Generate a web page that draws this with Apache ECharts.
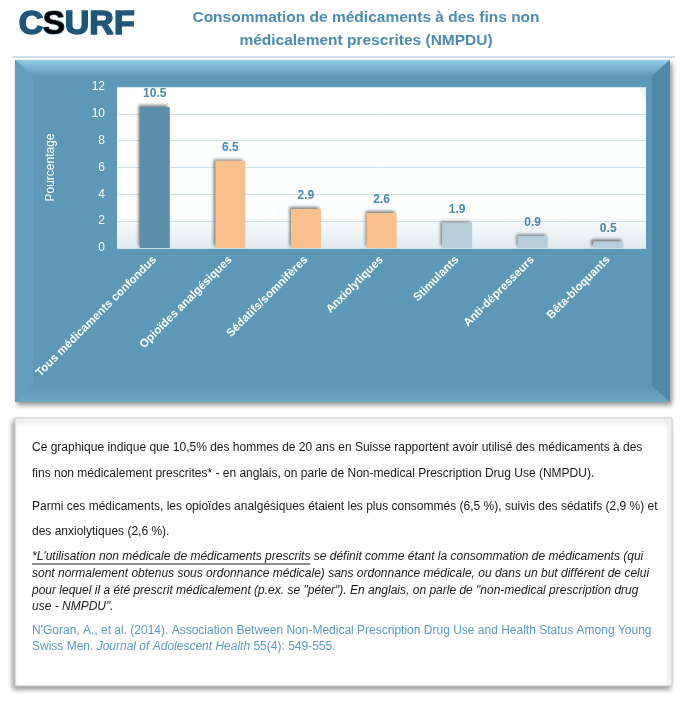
<!DOCTYPE html>
<html>
<head>
<meta charset="utf-8">
<script src="https://cdn.jsdelivr.net/npm/echarts@6/dist/echarts.min.js"></script>
<style>
html,body{margin:0;padding:0;background:#fff;}
#c{width:688px;height:702px;}
</style>
</head>
<body>
<div id="c"></div>
<script>
const categories = ['Tous médicaments confondus','Opioïdes analgésiques','Sédatifs/somnifères','Anxiolytiques','Stimulants','Anti-dépresseurs','Bêta-bloquants'];
const values = [10.5, 6.5, 2.9, 2.6, 1.9, 0.9, 0.5];
const barColors = ['#5a8eab','#f9c08e','#f9c08e','#f9c08e','#b7cedb','#b7cedb','#b7cedb'];
const yMin = 0, yMax = 12, yStep = 2;
const titleLines = ['Consommation de médicaments à des fins non','médicalement prescrites (NMPDU)'];
const yName = 'Pourcentage';

const F = "'Liberation Sans', Arial, sans-serif";
const chart = echarts.init(document.getElementById('c'), null, {renderer:'canvas'});

const g = [];
// header
g.push({type:'text', left:18, top:7, z:10, style:{text:'C', font:'bold 34px '+F, fill:'#1d5679', stroke:'#1d5679', lineWidth:1.6}});
g.push({type:'text', left:42, top:7, z:10, style:{text:'S', font:'bold 34px '+F, fill:new echarts.graphic.LinearGradient(0,0,0,1,[{offset:0,color:'#2a5f80'},{offset:1,color:'#8fb7cf'}]), stroke:'#3f7596', lineWidth:1.2}});
g.push({type:'text', left:64, top:7, z:10, style:{text:'URF', font:'bold 34px '+F, fill:'#1d5679', stroke:'#1d5679', lineWidth:1.6}});
g.push({type:'text', x:366, y:10, z:10, style:{text:titleLines[0], font:'bold 15.5px '+F, fill:'#4b8cb5', align:'center'}});
g.push({type:'text', x:366, y:33, z:10, style:{text:titleLines[1], font:'bold 15.5px '+F, fill:'#4b8cb5', align:'center'}});
g.push({type:'line', z:10, shape:{x1:12,y1:57,x2:675,y2:57}, style:{stroke:'#a9bfcb', lineWidth:1}});

// panel
g.push({type:'rect', z:-10, shape:{x:15,y:60,width:655,height:342}, style:{fill:'#5d98b6', shadowBlur:5, shadowOffsetX:2, shadowOffsetY:3, shadowColor:'rgba(0,0,0,0.45)'}});
g.push({type:'polygon', z:-9, shape:{points:[[15,60],[670,60],[652,76],[33,76]]}, style:{fill:new echarts.graphic.LinearGradient(0,0,0,1,[{offset:0,color:'#93cbe7'},{offset:1,color:'#5f9bb9'}])}});
g.push({type:'polygon', z:-9, shape:{points:[[15,60],[33,76],[33,386],[15,402]]}, style:{fill:'#659dba'}});
g.push({type:'polygon', z:-9, shape:{points:[[670,60],[652,76],[652,386],[670,402]]}, style:{fill:'#5089a6'}});
g.push({type:'polygon', z:-9, shape:{points:[[15,402],[33,386],[652,386],[670,402]]}, style:{fill:new echarts.graphic.LinearGradient(0,0,0,1,[{offset:0,color:'#5d98b6'},{offset:1,color:'#6ea6c1'}])}});
// plot area
g.push({type:'rect', z:-8, shape:{x:117,y:87,width:529,height:161}, style:{fill:new echarts.graphic.LinearGradient(0,0,0,1,[{offset:0,color:'#ffffff'},{offset:0.8,color:'#fbfdfe'},{offset:1,color:'#e2ebf0'}]), shadowBlur:4, shadowOffsetX:-2, shadowOffsetY:2, shadowColor:'rgba(0,0,0,0.55)'}});
g.push({type:'polygon', z:-7, shape:{points:[[638,87],[646,87],[646,100]]}, style:{fill:'#eef3f6'}});

// text box
g.push({type:'rect', z:-10, shape:{x:15,y:418,width:657,height:268}, style:{fill:'#fff', stroke:'#c9c9c9', lineWidth:1, shadowBlur:5, shadowOffsetX:-2, shadowOffsetY:3, shadowColor:'rgba(0,0,0,0.4)'}});
const TF = '12px '+F;
const lines = [
 {y:448, t:'Ce graphique indique que 10,5% des hommes de 20 ans en Suisse rapportent avoir utilisé des médicaments à des'},
 {y:474, t:'fins non médicalement prescrites* - en anglais, on parle de Non-medical Prescription Drug Use (NMPDU).'},
 {y:507, t:'Parmi ces médicaments, les opioïdes analgésiques étaient les plus consommés (6,5 %), suivis des sédatifs (2,9 %) et'},
 {y:532, t:'des anxiolytiques (2,6 %).'},
];
lines.forEach(l=>g.push({type:'text', x:32, y:l.y, z:10, style:{text:l.t, font:TF, fill:'#1a1a1a', verticalAlign:'middle'}}));
const IF = 'italic 12px '+F;
g.push({type:'text', x:32, y:557, z:10, style:{text:'{u|*L\'utilisation non médicale de médicaments prescrits}{n| se définit comme étant la consommation de médicaments (qui}', verticalAlign:'middle', rich:{u:{font:IF, fill:'#1a1a1a'}, n:{font:IF, fill:'#1a1a1a'}}}});
const ital = [
 {y:574, t:'sont normalement obtenus sous ordonnance médicale) sans ordonnance médicale, ou dans un but différent de celui'},
 {y:591, t:'pour lequel il a été prescrit médicalement (p.ex. se "péter"). En anglais, on parle de "non-medical prescription drug'},
 {y:607, t:'use - NMPDU".'},
];
ital.forEach(l=>g.push({type:'text', x:32, y:l.y, z:10, style:{text:l.t, font:IF, fill:'#1a1a1a', verticalAlign:'middle'}}));
g.push({type:'text', x:32, y:631, z:10, style:{text:'N\'Goran, A., et al. (2014). Association Between Non-Medical Prescription Drug Use and Health Status Among Young', font:TF, fill:'#5b9ac1', verticalAlign:'middle'}});
g.push({type:'text', x:32, y:647, z:10, style:{text:'{a|Swiss Men. }{b|Journal of Adolescent Health}{a| 55(4): 549-555.}', verticalAlign:'middle', rich:{a:{font:TF, fill:'#5b9ac1'}, b:{font:IF, fill:'#5b9ac1'}}}});

const option = {
  animation:false,
  grid:{left:117, top:87, width:529, height:161, containLabel:false},
  xAxis:{type:'category', data:categories, axisTick:{show:false},
    axisLine:{show:false},
    axisLabel:{rotate:45, color:'#ffffff', fontWeight:'bold', fontSize:11.5, fontFamily:F, margin:10, interval:0}},
  yAxis:{type:'value', min:yMin, max:yMax, interval:yStep,
    name:yName, nameLocation:'middle', nameRotate:90, nameGap:60,
    nameTextStyle:{color:'#ffffff', fontSize:12, fontFamily:F},
    axisLine:{show:false}, axisTick:{show:false},
    axisLabel:{color:'#ffffff', fontSize:12, fontFamily:F, margin:12},
    splitLine:{lineStyle:{color:'#cfe2eb', width:1}}},
  series:[{type:'bar', barWidth:30,
    data:values.map((v,i)=>({value:v, itemStyle:{color:barColors[i]}})),
    itemStyle:{shadowBlur:3, shadowOffsetX:-2, shadowOffsetY:-2, shadowColor:'rgba(0,0,0,0.5)'},
    label:{show:true, position:'top', distance:7, color:'#4b87ae', fontWeight:'bold', fontSize:12, fontFamily:F,
      formatter:p=>p.value.toFixed(1)}
  }],
  graphic:g
};
chart.setOption(option);
// underline for defined term
const term = '*L\'utilisation non médicale de médicaments prescrits';
const cv = document.createElement('canvas').getContext('2d');
cv.font = IF;
const w = cv.measureText(term).width;
option.graphic.push({type:'line', z:10, shape:{x1:32, y1:564, x2:32+w, y2:564}, style:{stroke:'#1a1a1a', lineWidth:1}});
chart.setOption({graphic:option.graphic});
</script>
</body>
</html>
